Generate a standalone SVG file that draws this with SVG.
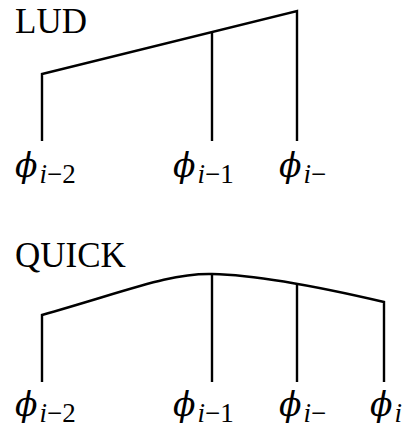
<svg xmlns="http://www.w3.org/2000/svg" width="406" height="430" viewBox="0 0 406 430">
<style>
.t{font-family:"Liberation Serif","DejaVu Serif",serif;fill:#000}
.h{font-size:35px}
.phi{font-size:33px;font-style:italic;font-family:"DejaVu Serif",serif}
tspan.sub{font-size:27px;font-family:"Liberation Serif",serif}
.ln{stroke:#000;stroke-width:2.4;fill:none;stroke-linejoin:miter}
</style>
<rect width="406" height="430" fill="#fff"/>
<g id="lud-title"><text class="t h" x="15" y="33">LUD</text></g>
<g id="connectors">
<path class="ln" d="M42,141 V74 L297,11 V141"/>
<path class="ln" d="M212,32 V141"/>
<path class="ln" d="M42,382 V315 C130,290 170,273 212,274 C260,275 320,287 384,302 V382"/>
<path class="ln" d="M212,274 V382"/>
<path class="ln" d="M297,284 V382"/>
</g>
<g id="lud-n1"><text class="t phi" x="15" y="177">ϕ<tspan class="sub" dx="2" dy="6">i</tspan><tspan class="sub" font-style="normal">−2</tspan></text></g>
<g id="lud-n2"><text class="t phi" x="173" y="177">ϕ<tspan class="sub" dx="2" dy="6">i</tspan><tspan class="sub" font-style="normal">−1</tspan></text></g>
<g id="lud-n3"><text class="t phi" x="279" y="177">ϕ<tspan class="sub" dx="2" dy="6">i</tspan><tspan class="sub" font-style="normal">−</tspan></text></g>
<g id="quick-title"><text class="t h" x="15" y="267">QUICK</text></g>
<g id="q-n1"><text class="t phi" x="15" y="416">ϕ<tspan class="sub" dx="2" dy="6">i</tspan><tspan class="sub" font-style="normal">−2</tspan></text></g>
<g id="q-n2"><text class="t phi" x="173" y="416">ϕ<tspan class="sub" dx="2" dy="6">i</tspan><tspan class="sub" font-style="normal">−1</tspan></text></g>
<g id="q-n3"><text class="t phi" x="279" y="416">ϕ<tspan class="sub" dx="2" dy="6">i</tspan><tspan class="sub" font-style="normal">−</tspan></text></g>
<g id="q-n4"><text class="t phi" x="370" y="416">ϕ<tspan class="sub" dx="2" dy="6">i</tspan></text></g>
</svg>
